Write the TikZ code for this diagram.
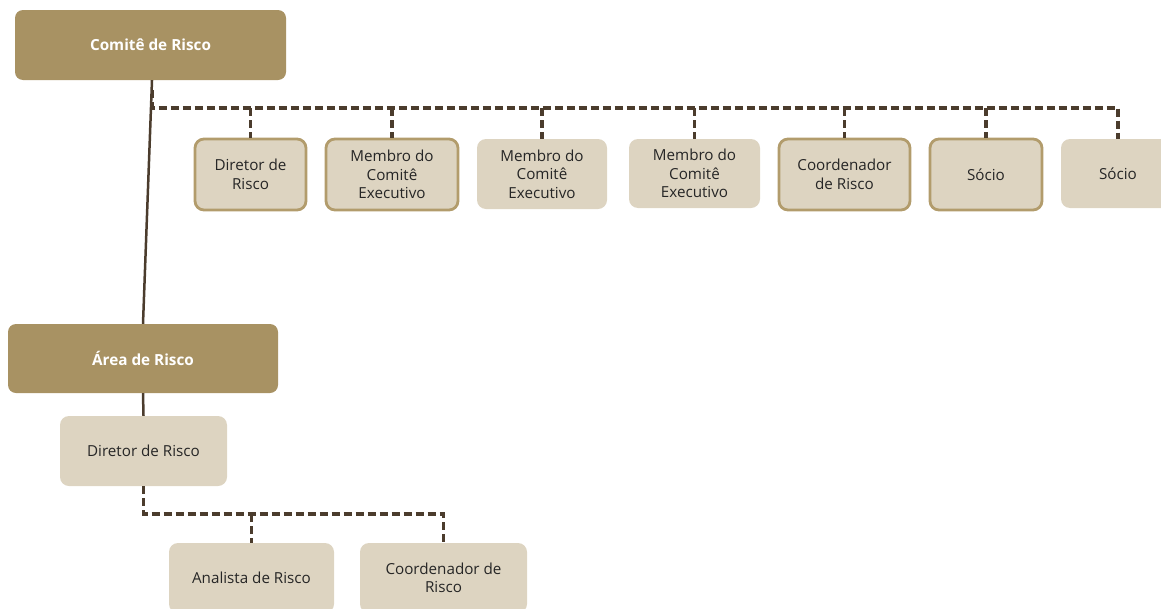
\documentclass[tikz,border=0pt]{standalone}
\usepackage{fontspec}
\setmainfont{Open Sans}
\usetikzlibrary{calc}

\definecolor{gold}{HTML}{A89263}
\definecolor{goldline}{HTML}{B29C6C}
\definecolor{sand}{HTML}{DDD4C1}
\definecolor{bark}{HTML}{4B3C2D}

\tikzset{
    headbox/.style={fill=gold, rounded corners=8pt, text=white, font=\fontsize{15.3}{18}\selectfont\bfseries,
        minimum width=271pt, minimum height=70pt, inner sep=0pt},
    rolebox/.style={fill=sand, rounded corners=9pt, text=black!85, font=\fontsize{15.2}{18.5}\selectfont,
        align=center, minimum width=131pt, minimum height=71pt, inner sep=0pt},
    ringbox/.style={rolebox, draw=goldline, line width=2.8pt},
    bus/.style={draw=bark, line width=3.2pt, dash pattern=on 8pt off 4pt},
    trunk/.style={draw=bark, line width=2.5pt}
}

\begin{document}
\begin{tikzpicture}[x=1pt, y=-1pt]
    \useasboundingbox (0,0) rectangle (1161,608);

    % Top: committee and its members
    \node[headbox] (comite) at (150.5, 45) {Comitê de Risco};

    \node[ringbox, minimum width=111pt] (dir1) at (250.5, 174.5) {Diretor de\\Risco};
    \node[ringbox, minimum width=132pt] (mem1) at (392, 174.5) {Membro do\\Comitê\\Executivo};
    \node[rolebox, minimum width=130pt, minimum height=70pt] (mem2) at (542, 174) {Membro do\\Comitê\\Executivo};
    \node[rolebox, minimum width=131pt, minimum height=69pt] (mem3) at (694.5, 173.5) {Membro do\\Comitê\\Executivo};
    \node[ringbox, minimum width=131pt] (coord1) at (844.5, 174.5) {Coordenador\\de Risco};
    \node[ringbox, minimum width=112pt] (socio1) at (986, 174.5) {Sócio};
    \node[rolebox, minimum width=114pt, minimum height=69pt] (socio2) at (1118, 173.5) {Sócio};

    % Bottom: risk area
    \node[headbox, minimum width=270pt, minimum height=69pt] (area) at (143, 358.5) {Área de Risco};
    \node[rolebox, minimum width=167pt, minimum height=70pt] (dir2) at (143.5, 451) {Diretor de Risco};
    \node[rolebox, minimum width=165pt, minimum height=70pt] (anal) at (251.5, 578) {Analista de Risco};
    \node[rolebox, minimum width=167pt, minimum height=70pt] (coord2) at (443.5, 578) {Coordenador de\\Risco};

    % Solid links
    \draw[trunk] ($(comite.south)+(1.5,0)$) -- (area.north);
    \draw[trunk] (area.south) -- (dir2.north);

    % Dashed bus for the committee members
    \coordinate (topbus) at (152, 108);
    \draw[bus] ($(comite.south)+(2,10)$) |- (socio2.north |- topbus) -- (socio2.north);
    \foreach \n in {dir1, mem1, mem2, mem3, coord1, socio1}
        \draw[bus] (\n.north |- topbus) -- (\n.north);

    % Dashed bus under the director
    \coordinate (lowbus) at (143.5, 514);
    \draw[bus] (dir2.south) |- (coord2.north |- lowbus) -- (coord2.north);
    \draw[bus] (anal.north |- lowbus) -- (anal.north);

\end{tikzpicture}
\end{document}
